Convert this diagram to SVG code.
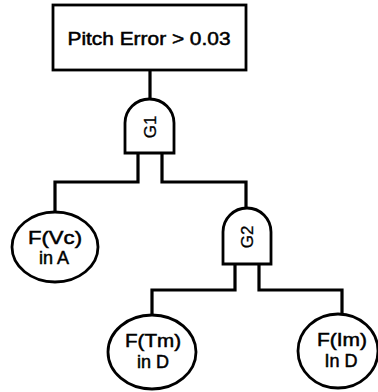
<svg xmlns="http://www.w3.org/2000/svg" width="378" height="392" viewBox="0 0 378 392">
<style>
.shape{fill:#fff;stroke:#000;stroke-width:2.8}
.wire{fill:none;stroke:#000;stroke-width:3.2;stroke-linejoin:miter;stroke-linecap:square}
.t{font-family:"Liberation Sans",Arial,sans-serif;font-size:18px;fill:#000;stroke:#000;stroke-width:0.5;text-anchor:middle}
.g{font-family:"Liberation Sans",Arial,sans-serif;font-size:17px;fill:#000;stroke:#000;stroke-width:0.3;text-anchor:middle}
</style>
<rect width="378" height="392" fill="#fff"/>
<g id="connectors">
<path class="wire" d="M150,70 V99"/>
<path class="wire" d="M138,153 V182 H55 V212"/>
<path class="wire" d="M162,153 V182 H246 V208"/>
<path class="wire" d="M235,264 V290 H152 V315"/>
<path class="wire" d="M259,264 V290 H342 V313"/>
</g>
<g id="top">
<rect class="shape" x="53" y="5" width="193" height="65"/>
<text class="t" x="149" y="44.5" textLength="163" lengthAdjust="spacingAndGlyphs">Pitch Error &gt; 0.03</text>
</g>
<g id="G1">
<path class="shape" d="M125,153 V123 A24.5,24 0 0 1 174,123 V153 Z"/>
<text class="g" transform="translate(149.5,127) rotate(-90)" x="0" y="6">G1</text>
</g>
<g id="G2">
<path class="shape" d="M223,264 V232 A24,24 0 0 1 271,232 V264 Z"/>
<text class="g" transform="translate(247,237) rotate(-90)" x="0" y="6">G2</text>
</g>
<g id="Vc">
<ellipse class="shape" cx="55" cy="247" rx="43" ry="35"/>
<text class="t" x="55" y="244" textLength="54" lengthAdjust="spacingAndGlyphs">F(Vc)</text>
<text class="t" x="54" y="264">in A</text>
</g>
<g id="Tm">
<ellipse class="shape" cx="152" cy="352" rx="44" ry="37"/>
<text class="t" x="153" y="347" textLength="56" lengthAdjust="spacingAndGlyphs">F(Tm)</text>
<text class="t" x="153" y="368">in D</text>
</g>
<g id="Im">
<ellipse class="shape" cx="338" cy="351" rx="40" ry="37"/>
<text class="t" x="342" y="346" textLength="50" lengthAdjust="spacingAndGlyphs">F(Im)</text>
<text class="t" x="341" y="367">In D</text>
</g>
</svg>
